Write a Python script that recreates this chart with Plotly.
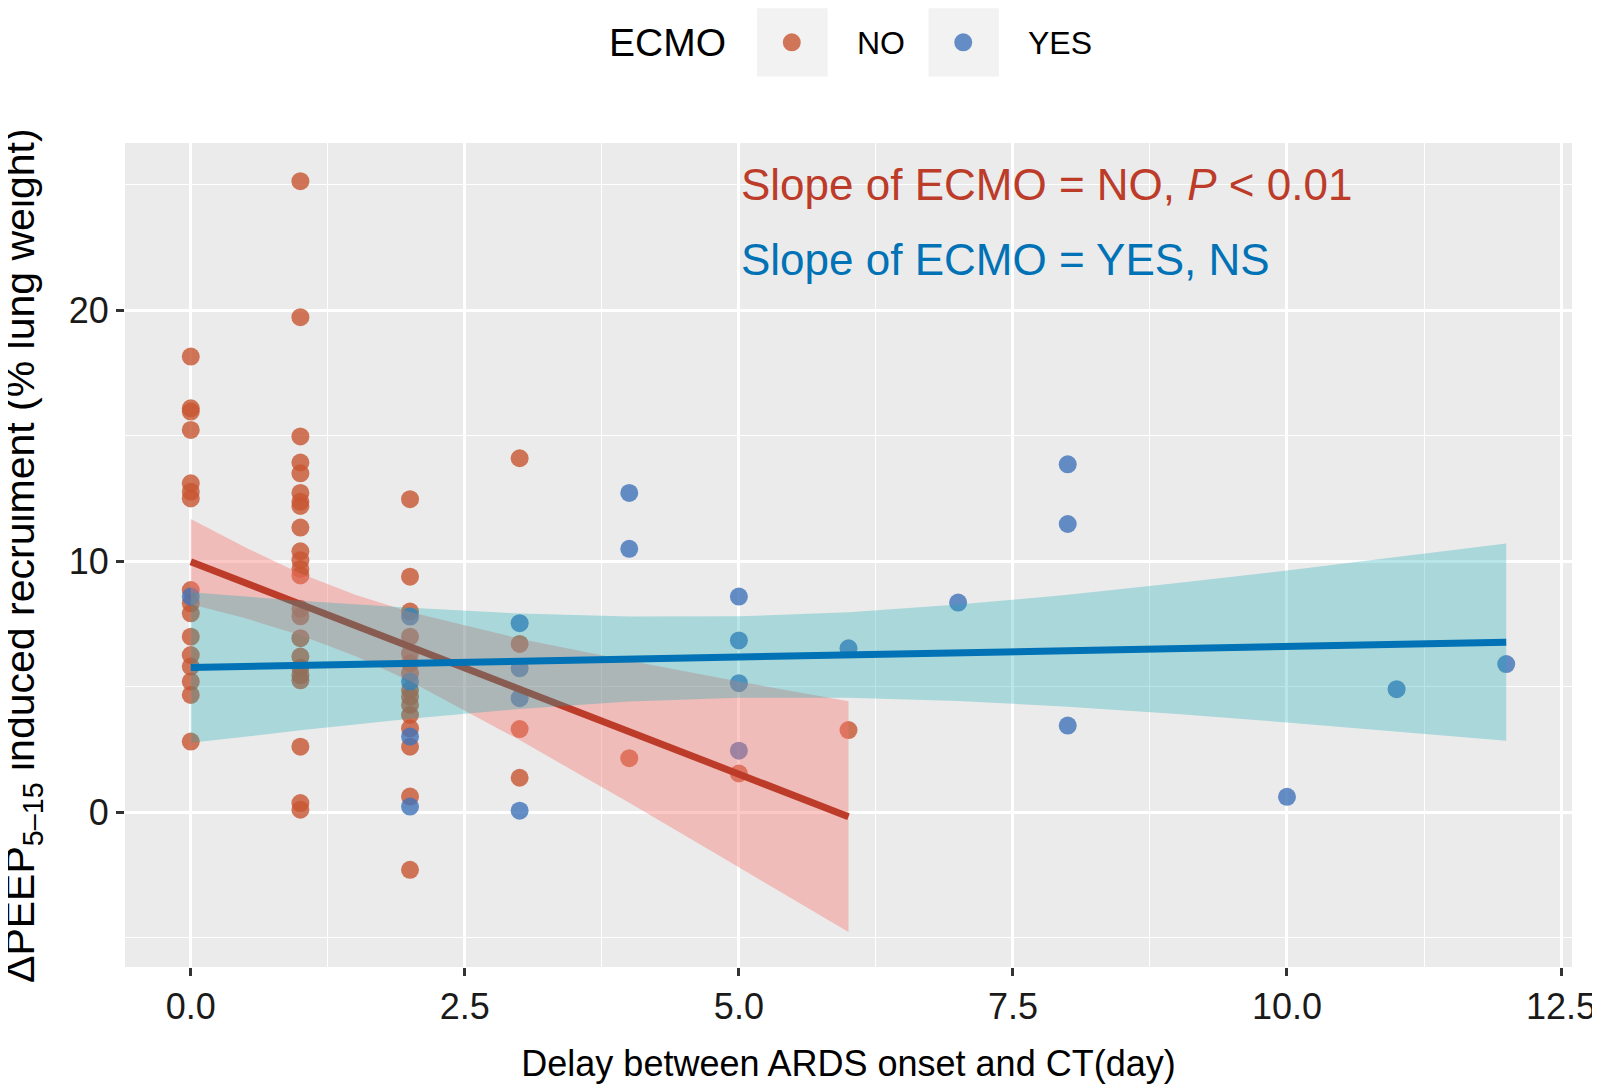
import plotly.graph_objects as go

# points (x = delay in days, y = recruitment %)
no_x = [0] * 16 + [1] * 23 + [2] * 15 + [3] * 4 + [4, 5, 6]
no_y = [18.15, 16.09, 15.96, 15.23, 13.10, 12.77, 12.50, 8.85, 8.32, 7.92,
        6.99, 6.26, 5.80, 5.20, 4.67, 2.81,
        25.14, 19.72, 14.97, 13.93, 13.50, 12.72, 12.37, 12.20, 11.34, 10.39,
        10.04, 9.69, 9.43, 8.10, 7.80, 6.93, 6.20, 5.75, 5.45, 5.25, 2.61, 0.36, 0.10,
        12.47, 9.38, 7.99, 6.99, 6.33, 5.93, 5.53, 4.87, 4.60, 4.27, 3.87,
        3.34, 2.61, 0.62, -2.30,
        14.10, 6.70, 3.31, 1.37,
        2.15, 1.54, 3.27]

yes_x = [0, 2, 2, 2, 2, 3, 3, 3, 3, 4, 4, 5, 5, 5, 5, 6, 7, 8, 8, 8, 10, 11, 12]
yes_y = [8.59, 7.79, 5.20, 3.01, 0.22, 7.53, 5.73, 4.54, 0.06, 12.72, 10.49,
         8.59, 6.84, 5.14, 2.45, 6.53, 8.35, 13.86, 11.48, 3.45, 0.61, 4.90, 5.90]

# linear fits with 95% band
no_fit_x = [0, 0.5, 1, 1.5, 2, 3, 4, 5, 6]
no_fit_mid = [9.98, 9.13, 8.28, 7.44, 6.59, 4.89, 3.20, 1.50, -0.18]
no_fit_lo = [8.28, 7.72, 7.05, 6.22, 5.21, 2.87, 0.37, -2.20, -4.78]
no_fit_hi = [11.68, 10.54, 9.51, 8.66, 7.97, 6.91, 6.03, 5.20, 4.42]

yes_fit_x = [0, 1, 2, 3, 4, 5, 6, 7, 8, 9, 10, 11, 12]
yes_fit_mid = [5.76, 5.84, 5.93, 6.01, 6.10, 6.18, 6.26, 6.35, 6.43, 6.52, 6.60, 6.68, 6.77]
yes_fit_lo = [2.76, 3.26, 3.72, 4.11, 4.41, 4.56, 4.56, 4.43, 4.20, 3.91, 3.57, 3.21, 2.84]
yes_fit_hi = [8.76, 8.42, 8.14, 7.91, 7.79, 7.80, 7.96, 8.27, 8.66, 9.13, 9.63, 10.15, 10.70]

NO_PT = 'rgba(200,85,50,0.8)'
YES_PT = 'rgba(64,115,186,0.8)'
NO_LINE = '#BC3C29'
YES_LINE = '#0072B5'
FONT = 'Liberation Sans, Arial, sans-serif'

fig = go.Figure()

fig.add_trace(go.Scatter(x=no_x, y=no_y, mode='markers', name='NO',
                         marker=dict(size=18, color=NO_PT), showlegend=False))
fig.add_trace(go.Scatter(x=yes_x, y=yes_y, mode='markers', name='YES',
                         marker=dict(size=18, color=YES_PT), showlegend=False))

# NO ribbon + line, then YES ribbon + line (same order as ggplot draws them)
fig.add_trace(go.Scatter(x=no_fit_x + no_fit_x[::-1], y=no_fit_hi + no_fit_lo[::-1],
                         fill='toself', fillcolor='rgba(248,118,109,0.4)',
                         mode='lines', line=dict(width=0), hoverinfo='skip',
                         showlegend=False))
fig.add_trace(go.Scatter(x=no_fit_x, y=no_fit_mid, mode='lines',
                         line=dict(color=NO_LINE, width=7), showlegend=False))
fig.add_trace(go.Scatter(x=yes_fit_x + yes_fit_x[::-1], y=yes_fit_hi + yes_fit_lo[::-1],
                         fill='toself', fillcolor='rgba(20,170,180,0.3)',
                         mode='lines', line=dict(width=0), hoverinfo='skip',
                         showlegend=False))
fig.add_trace(go.Scatter(x=yes_fit_x, y=yes_fit_mid, mode='lines',
                         line=dict(color=YES_LINE, width=7), showlegend=False))

# slope labels
fig.add_annotation(x=5, y=25, xref='x', yref='y', xanchor='left', yanchor='middle',
                   showarrow=False, text='Slope of ECMO = NO, <i>P</i> < 0.01',
                   font=dict(family=FONT, size=44, color=NO_LINE))
fig.add_annotation(x=5, y=22, xref='x', yref='y', xanchor='left', yanchor='middle',
                   showarrow=False, text='Slope of ECMO = YES, NS',
                   font=dict(family=FONT, size=44, color=YES_LINE))

# y axis title (placed by hand so it sits as far left as in the original)
fig.add_annotation(x=-0.0705, y=0.5, xref='paper', yref='paper', showarrow=False,
                   textangle=-90, xanchor='center', yanchor='middle',
                   text='ΔPEEP<sub>5–15</sub> induced recruiment (% lung weight)',
                   font=dict(family=FONT, size=41, color='black'))

# legend drawn by hand, ggplot style (grey key boxes)
fig.add_annotation(x=0.3752, y=1.1214, xref='paper', yref='paper', showarrow=False,
                   xanchor='center', yanchor='middle', text='ECMO',
                   font=dict(family=FONT, size=39, color='black'))
for x0, x1, dot, col, lab, lx in [(0.4368, 0.4856, 0.4608, NO_PT, 'NO', 0.5045),
                                  (0.5553, 0.6039, 0.5793, YES_PT, 'YES', 0.6229)]:
    fig.add_shape(type='rect', xref='paper', yref='paper', x0=x0, x1=x1,
                  y0=1.0807, y1=1.1636, fillcolor='#F2F2F2', line=dict(width=0))
    fig.add_shape(type='circle', xref='paper', yref='paper',
                  xsizemode='pixel', ysizemode='pixel', xanchor=dot, yanchor=1.1222,
                  x0=-9, x1=9, y0=-9, y1=9, fillcolor=col, line=dict(width=0))
    fig.add_annotation(x=lx, y=1.1214, xref='paper', yref='paper', showarrow=False,
                       xanchor='left', yanchor='middle', text=lab,
                       font=dict(family=FONT, size=32, color='black'))

# page body adds an 8px offset, so the figure is 8px smaller than the window
fig.update_layout(
    width=1592, height=1076,
    margin=dict(l=116.5, r=27.6, t=134.9, b=116.7),
    paper_bgcolor='white', plot_bgcolor='#EBEBEB',
    font=dict(family=FONT, color='black'),
    showlegend=False,
    xaxis=dict(
        range=[-0.6, 12.6], tick0=0, dtick=2.5, tickformat='.1f',
        automargin=False,
        showgrid=True, gridcolor='white', gridwidth=3, zeroline=False,
        minor=dict(dtick=1.25, showgrid=True, gridcolor='white', gridwidth=1.3),
        ticks='outside', ticklen=8, tickwidth=2.5, tickcolor='#333333',
        tickfont=dict(size=36, color='#1a1a1a'),
        title=dict(text='Delay between ARDS onset and CT(day)',
                   font=dict(size=36), standoff=26),
    ),
    yaxis=dict(
        range=[-6.17, 26.66], tick0=0, dtick=10,
        automargin=False,
        showgrid=True, gridcolor='white', gridwidth=3, zeroline=False,
        minor=dict(dtick=5, showgrid=True, gridcolor='white', gridwidth=1.3),
        ticks='outside', ticklen=8, tickwidth=2.5, tickcolor='#333333',
        tickfont=dict(size=36, color='#1a1a1a'),
    ),
)

fig.write_html("out.html")
